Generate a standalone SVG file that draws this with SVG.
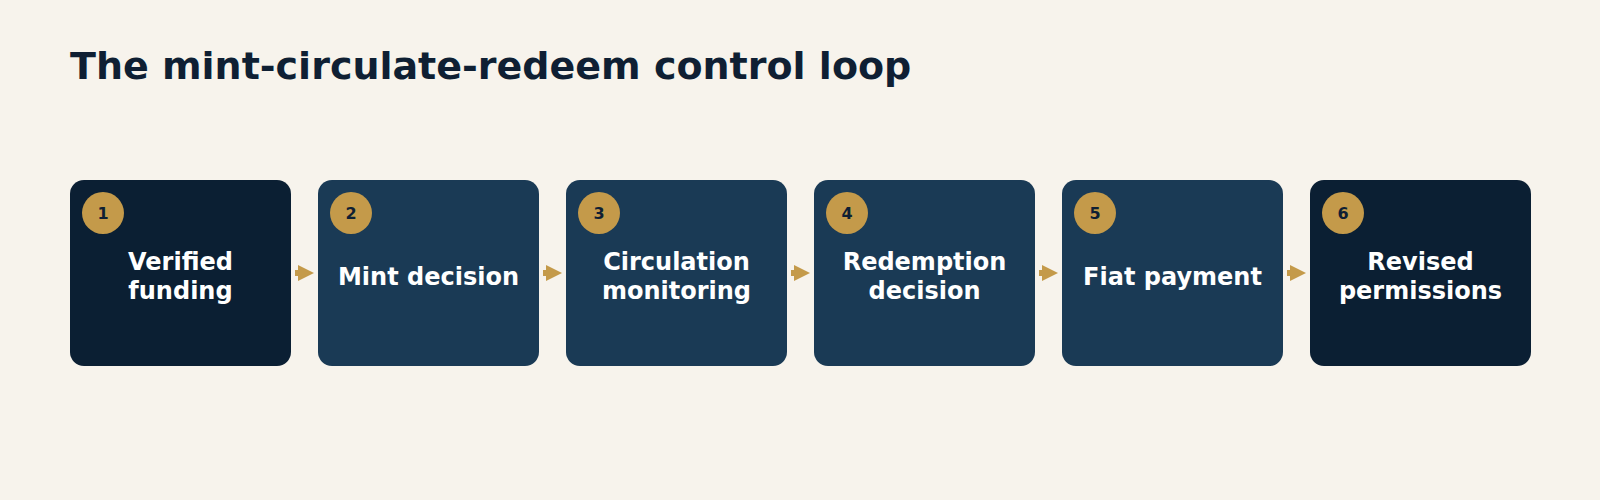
<svg xmlns="http://www.w3.org/2000/svg" width="1600" height="500" viewBox="0 0 1600 500">
<style>
.title{font-family:"DejaVu Sans",sans-serif;font-weight:bold;font-size:38px;fill:#0f1f33}
.box-dark{fill:#0b1f33}
.box-mid{fill:#1a3a55}
.badge{fill:#c49a4a}
.num{font-family:"DejaVu Sans",sans-serif;font-weight:bold;font-size:16px;fill:#0f1f33;text-anchor:middle}
.lbl{font-family:"DejaVu Sans",sans-serif;font-weight:bold;font-size:24px;fill:#ffffff;text-anchor:middle}
.conn{stroke:#c49a4a;stroke-width:6;fill:none}
</style>
<defs>
<marker id="ah" viewBox="0 0 10 10" markerUnits="userSpaceOnUse" markerWidth="16" markerHeight="21" refX="3.75" refY="5" orient="auto">
<path d="M0,0 L10,5 L0,10 z" fill="#c49a4a"/>
</marker>
</defs>
<rect width="1600" height="500" fill="#f7f3ec"/>
<text class="title" x="70" y="79">The mint-circulate-redeem control loop</text>
<g id="connectors">
<line class="conn" x1="295" y1="273" x2="304" y2="273" marker-end="url(#ah)"/>
<line class="conn" x1="543" y1="273" x2="552" y2="273" marker-end="url(#ah)"/>
<line class="conn" x1="791" y1="273" x2="800" y2="273" marker-end="url(#ah)"/>
<line class="conn" x1="1039" y1="273" x2="1048" y2="273" marker-end="url(#ah)"/>
<line class="conn" x1="1287" y1="273" x2="1296" y2="273" marker-end="url(#ah)"/>
</g>
<g id="node1">
<rect class="box-dark" x="70" y="180" width="221" height="186" rx="14"/>
<circle class="badge" cx="103" cy="213" r="21"/>
<text class="num" x="103" y="219">1</text>
<text class="lbl" x="180.5" y="270">Verified</text>
<text class="lbl" x="180.5" y="299">funding</text>
</g>
<g id="node2">
<rect class="box-mid" x="318" y="180" width="221" height="186" rx="14"/>
<circle class="badge" cx="351" cy="213" r="21"/>
<text class="num" x="351" y="219">2</text>
<text class="lbl" x="428.5" y="285">Mint decision</text>
</g>
<g id="node3">
<rect class="box-mid" x="566" y="180" width="221" height="186" rx="14"/>
<circle class="badge" cx="599" cy="213" r="21"/>
<text class="num" x="599" y="219">3</text>
<text class="lbl" x="676.5" y="270">Circulation</text>
<text class="lbl" x="676.5" y="299">monitoring</text>
</g>
<g id="node4">
<rect class="box-mid" x="814" y="180" width="221" height="186" rx="14"/>
<circle class="badge" cx="847" cy="213" r="21"/>
<text class="num" x="847" y="219">4</text>
<text class="lbl" x="924.5" y="270">Redemption</text>
<text class="lbl" x="924.5" y="299">decision</text>
</g>
<g id="node5">
<rect class="box-mid" x="1062" y="180" width="221" height="186" rx="14"/>
<circle class="badge" cx="1095" cy="213" r="21"/>
<text class="num" x="1095" y="219">5</text>
<text class="lbl" x="1172.5" y="285">Fiat payment</text>
</g>
<g id="node6">
<rect class="box-dark" x="1310" y="180" width="221" height="186" rx="14"/>
<circle class="badge" cx="1343" cy="213" r="21"/>
<text class="num" x="1343" y="219">6</text>
<text class="lbl" x="1420.5" y="270">Revised</text>
<text class="lbl" x="1420.5" y="299">permissions</text>
</g>
</svg>
